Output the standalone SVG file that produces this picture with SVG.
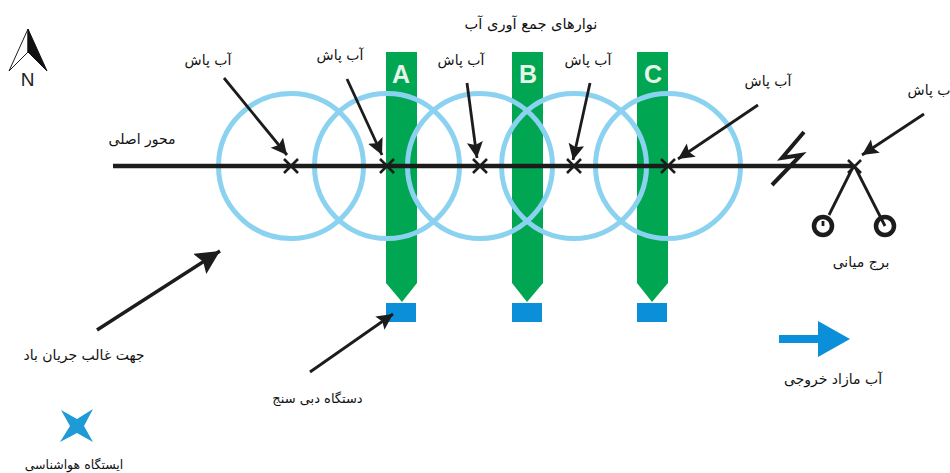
<svg xmlns="http://www.w3.org/2000/svg" width="950" height="473" viewBox="0 0 950 473">
<style>
.t{font-family:"DejaVu Serif","DejaVu Sans","Noto Sans",serif;font-size:14px;fill:#111;text-anchor:middle}
.ring{fill:none;stroke:#8ad2f0;stroke-width:5}
.strip{fill:#00a651}
.meter{fill:#0a8fd8}
.arr{stroke:#1c1c1c;stroke-width:2.8;fill:none;marker-end:url(#h)}
.x{stroke:#1c1c1c;stroke-width:2.6;fill:none}
.l{font-family:"Liberation Sans",Arial,sans-serif;font-weight:700;font-size:25px;fill:#e4f5ea;text-anchor:middle}
</style>
<defs>
<marker id="h" markerUnits="userSpaceOnUse" markerWidth="24" markerHeight="24" refX="16" refY="8" orient="auto"><path d="M0 0L16 8L0 16L3 8Z" fill="#1c1c1c"/></marker>
<marker id="hb" markerUnits="userSpaceOnUse" markerWidth="30" markerHeight="30" refX="24" refY="12" orient="auto"><path d="M0 0L24 12L0 24L4 12Z" fill="#1c1c1c"/></marker>
</defs>
<g id="strip-a"><path class="strip" d="M386 52H417V283L402 302L386 283Z"/><rect class="meter" x="386" y="303" width="30" height="19"/><text class="l" x="401" y="83">A</text></g>
<g id="strip-b"><path class="strip" d="M512 52H543V283L527 302L512 283Z"/><rect class="meter" x="512" y="303" width="30" height="19"/><text class="l" x="528" y="83">B</text></g>
<g id="strip-c"><path class="strip" d="M637 52H668V283L652 302L637 283Z"/><rect class="meter" x="637" y="303" width="30" height="19"/><text class="l" x="653" y="83">C</text></g>
<g id="rings">
<circle class="ring" cx="291" cy="166" r="72.500"/><circle class="ring" cx="387" cy="166" r="72.500"/><circle class="ring" cx="480" cy="166" r="72.500"/><circle class="ring" cx="574" cy="166" r="72.500"/><circle class="ring" cx="668" cy="166" r="72.500"/>
</g>
<g id="main-axis"><path d="M113 166H853" stroke="#1c1c1c" stroke-width="4.500" fill="none"/>
<path class="x" d="M284 159L298 173M298 159L284 173M380 159L394 173M394 159L380 173M473 159L487 173M487 159L473 173M567 159L581 173M581 159L567 173M661 159L675 173M675 159L661 173M848 160L861 173M861 160L848 173"/>
<path d="M804 132L782 158L801 155L772 185" stroke="#1c1c1c" stroke-width="4" fill="none"/></g>
<g id="connectors">
<path class="arr" d="M224 78L287 155"/><path class="arr" d="M347 79L382 155"/><path class="arr" d="M467 83L477 158"/><path class="arr" d="M590 83L573 160"/><path class="arr" d="M758 105L678 159"/><path class="arr" d="M924 114L862 155"/>
<path d="M97 330L220 251" stroke="#1c1c1c" stroke-width="3.500" fill="none" marker-end="url(#hb)"/>
<path class="arr" d="M310 372L393 314"/>
</g>
<g id="tower"><path d="M853 167L829 215M855 167L885 226M823 221V226" stroke="#1c1c1c" stroke-width="2.800" fill="none"/><circle cx="823" cy="226" r="9" fill="none" stroke="#1c1c1c" stroke-width="4.500"/><circle cx="885" cy="226" r="9" fill="none" stroke="#1c1c1c" stroke-width="4.500"/></g>
<g id="north"><path d="M28 29L9 71L28 52Z" fill="#fff" stroke="#1c1c1c" stroke-width="1"/><path d="M28 29L47 71L28 52Z" fill="#111" stroke="#111"/><text x="27.500" y="86" font-family="Liberation Sans,Arial,sans-serif" font-size="19" text-anchor="middle" fill="#222">N</text></g>
<g id="outflow"><path class="meter" d="M779 335H818V321L850 339L818 357V343H779Z"/></g>
<g id="station"><path d="M61 410L77 419L93 409L84 426L93 442L77 433L60 442L70 426Z" fill="#1e9ad6"/></g>
<g id="labels">
<text class="t" style="font-size:14.600px" x="531" y="29">نوارهای جمع آوری آب</text>
<text class="t" x="208" y="65">آب پاش</text>
<text class="t" x="340" y="60">آب پاش</text>
<text class="t" x="461" y="65">آب پاش</text>
<text class="t" x="588" y="65">آب پاش</text>
<text class="t" x="768" y="86">آب پاش</text>
<text class="t" x="931" y="95">آب پاش</text>
<text class="t" x="142" y="144">محور اصلی</text>
<text class="t" x="861" y="267">برج میانی</text>
<text class="t" x="84" y="360">جهت غالب جریان باد</text>
<text class="t" style="font-size:13px" x="317.500" y="403">دستگاه دبی سنج</text>
<text class="t" style="font-size:12.500px" x="74" y="469">ایستگاه هواشناسی</text>
<text class="t" x="833" y="384">آب مازاد خروجی</text>
</g>
</svg>
